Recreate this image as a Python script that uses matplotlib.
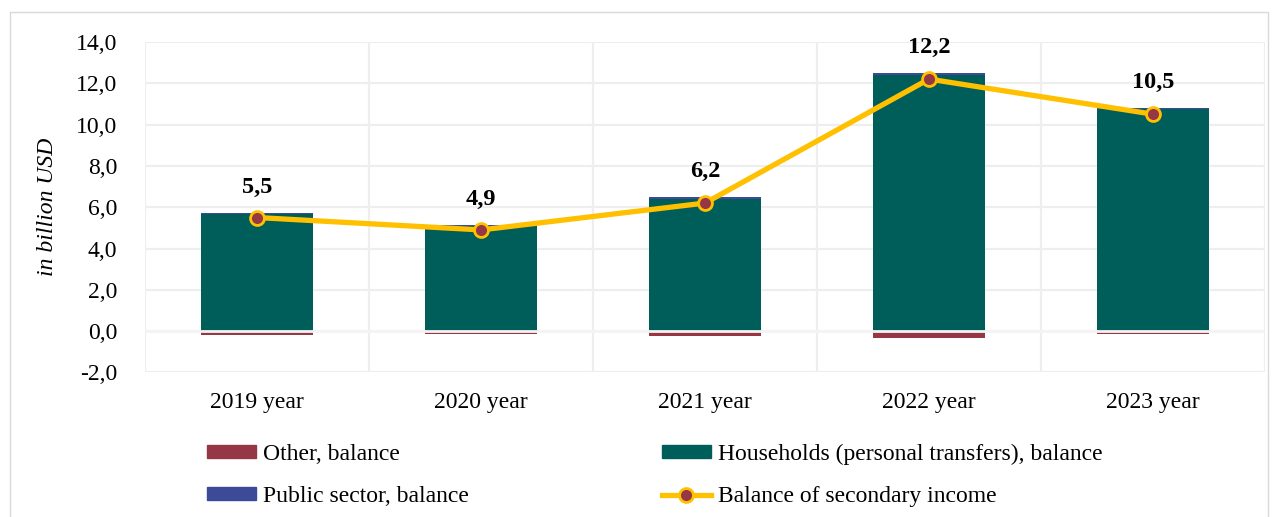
import matplotlib
matplotlib.use("Agg")
import matplotlib.pyplot as plt
from matplotlib.lines import Line2D
from matplotlib.patches import Patch, Rectangle
from matplotlib.ticker import FuncFormatter, MultipleLocator
import numpy as np

# secondary income components, billion USD
years = ["2019 year", "2020 year", "2021 year", "2022 year", "2023 year"]
households = [5.65, 5.08, 6.41, 12.40, 10.74]
public_sector = [0.08, 0.05, 0.08, 0.10, 0.06]
other = [-0.20, -0.15, -0.25, -0.35, -0.12]
balance = [5.5, 4.9, 6.2, 12.2, 10.5]

teal = "#005E5A"
maroon = "#953744"
navy = "#3C4A98"
gold = "#FFC000"
grid_col = "#EEEEEE"

plt.rcParams["font.family"] = ["Liberation Serif", "DejaVu Serif"]

fig = plt.figure(figsize=(12.8, 5.17), dpi=100)
ax = fig.add_axes([0.1133, 0.2795, 0.8750, 0.6395])

x = np.arange(len(years))
w = 0.5

ax.bar(x, other, w, color=maroon, zorder=2)
ax.bar(x, households, w, color=teal, zorder=2)
ax.bar(x, public_sector, w, bottom=households, color=navy, zorder=2)
ax.axhline(0, color="#F4F4F4", lw=2, zorder=3)

ax.plot(x, balance, color=gold, lw=3.8, marker="o", markersize=10,
        markerfacecolor=maroon, markeredgecolor=gold, markeredgewidth=2, zorder=4)

# value labels above each stack
for xi, h, p, v in zip(x, households, public_sector, balance):
    ax.annotate(f"{v:.1f}".replace(".", ","), (xi, h + p), xytext=(0, 11),
                textcoords="offset points", ha="center", va="bottom",
                fontsize=17.5, fontweight="bold")

ax.set_xlim(-0.5, len(years) - 0.5)
ax.set_ylim(-2, 14)
ax.yaxis.set_major_locator(MultipleLocator(2))
ax.yaxis.set_major_formatter(FuncFormatter(lambda v, _: f"{v:.1f}".replace(".", ",")))
ax.set_xticks(x)
ax.set_xticklabels(years)
ax.set_xticks(np.arange(-0.5, len(years)), minor=True)
ax.tick_params(axis="both", which="both", length=0, labelsize=17)
ax.tick_params(axis="y", pad=20)
ax.tick_params(axis="x", pad=14)

ax.grid(axis="y", which="major", color=grid_col, lw=1.6, zorder=0)
ax.grid(axis="x", which="minor", color=grid_col, lw=1.6, zorder=0)
for s in ax.spines.values():
    s.set_visible(False)

ax.set_ylabel("in billion USD", fontsize=17, fontstyle="italic", labelpad=20)
ax.yaxis.set_label_coords(-0.078, 0.5)

handles = [
    Patch(color=maroon, label="Other, balance"),
    Patch(color=navy, label="Public sector, balance"),
    Patch(color=teal, label="Households (personal transfers), balance"),
    Line2D([], [], color=gold, lw=3.8, marker="o", markersize=10,
           markerfacecolor=maroon, markeredgecolor=gold, markeredgewidth=2,
           label="Balance of secondary income"),
]
fig.legend(handles=handles, ncol=2, loc="lower left", bbox_to_anchor=(0.1448, -0.0217),
           frameon=False, fontsize=17, handlelength=2.1, handleheight=0.45,
           handletextpad=0.3, columnspacing=8.15, labelspacing=0.9)

# light frame around the chart area
fig.add_artist(Rectangle((10 / 1280, -0.05), 1258 / 1280, 1.05 - 12 / 517,
                         transform=fig.transFigure, fill=False,
                         edgecolor="#D9D9D9", lw=1))

fig.savefig("out.png", dpi=100)
